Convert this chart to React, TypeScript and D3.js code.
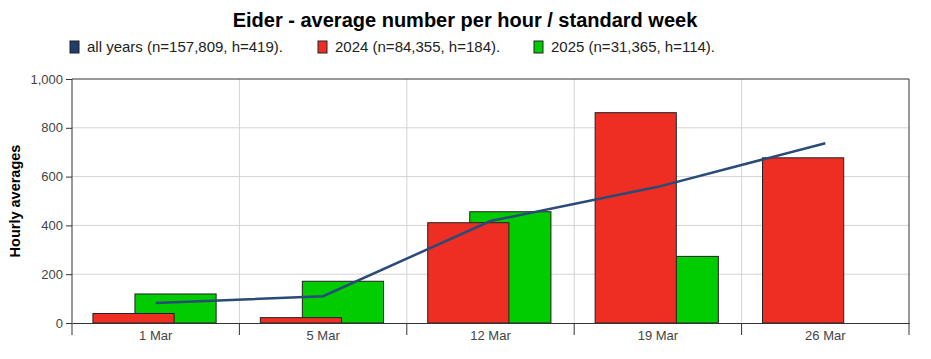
import React, { useEffect, useRef } from 'react';
import * as d3 from 'd3';

const weeks = ['1 Mar', '5 Mar', '12 Mar', '19 Mar', '26 Mar'];
const allYears = [82, 110, 418, 558, 737];
const y2024 = [39, 22, 411, 862, 677];
const y2025 = [119, 171, 456, 273, null];
const yTicks = [0, 200, 400, 600, 800, 1000];

const legendItems = [
  { label: 'all years (n=157,809, h=419).', color: '#1f3f6b', x: 70 },
  { label: '2024 (n=84,355, h=184).', color: '#ee2e22', x: 318 },
  { label: '2025 (n=31,365, h=114).', color: '#00cc00', x: 534 },
];

const FONT = 'Liberation Sans, Arial, sans-serif';

const App = () => {
  const svgRef = useRef<SVGSVGElement>(null);

  useEffect(() => {
    const W = 931, H = 359;
    const margin = { top: 79, right: 22, bottom: 36, left: 72 };
    const width = W - margin.left - margin.right;
    const height = H - margin.top - margin.bottom;

    const root = d3.select(svgRef.current);
    root.selectAll('*').remove();
    root.attr('width', W).attr('height', H);

    // title + legend
    root.append('text')
      .attr('x', 465).attr('y', 27)
      .attr('text-anchor', 'middle')
      .attr('font-family', FONT)
      .attr('font-weight', 'bold')
      .attr('font-size', 20)
      .attr('fill', '#000')
      .text('Eider - average number per hour / standard week');

    const leg = root.append('g').attr('font-family', FONT).attr('font-size', 15);
    legendItems.forEach(d => {
      leg.append('rect')
        .attr('x', d.x).attr('y', 41).attr('width', 9).attr('height', 12)
        .attr('fill', d.color).attr('stroke', '#222').attr('stroke-width', 1);
      leg.append('text')
        .attr('x', d.x + 17).attr('y', 52)
        .attr('fill', '#222')
        .text(d.label);
    });

    // y axis label
    root.append('text')
      .attr('transform', `translate(20,${margin.top + height / 2}) rotate(-90)`)
      .attr('text-anchor', 'middle')
      .attr('font-family', FONT)
      .attr('font-weight', 'bold')
      .attr('font-size', 14.5)
      .attr('fill', '#000')
      .text('Hourly averages');

    const svg = root.append('g').attr('transform', `translate(${margin.left},${margin.top})`);

    const x = d3.scaleBand().domain(weeks).range([0, width]).padding(0);
    const y = d3.scaleLinear().domain([0, 1000]).range([height, 0]);
    const bw = x.bandwidth();

    // grid
    svg.selectAll('.hgrid')
      .data(yTicks.slice(1, -1))
      .enter().append('line')
      .attr('x1', 0).attr('x2', width)
      .attr('y1', d => y(d)).attr('y2', d => y(d))
      .attr('stroke', '#d4d4d4').attr('stroke-width', 1);
    svg.selectAll('.vgrid')
      .data(weeks.slice(1))
      .enter().append('line')
      .attr('x1', d => x(d)!).attr('x2', d => x(d)!)
      .attr('y1', 0).attr('y2', height)
      .attr('stroke', '#d4d4d4').attr('stroke-width', 1);

    // bars: green first, red on top
    const barW = bw * 0.485;
    svg.selectAll('.g25')
      .data(weeks.map((w, i) => ({ w, v: y2025[i] })).filter(d => d.v != null))
      .enter().append('rect')
      .attr('x', d => x(d.w)! + bw * 0.376)
      .attr('y', d => y(d.v as number))
      .attr('width', barW)
      .attr('height', d => height - y(d.v as number))
      .attr('fill', '#00cc00').attr('stroke', '#222').attr('stroke-width', 1);
    svg.selectAll('.r24')
      .data(weeks.map((w, i) => ({ w, v: y2024[i] })))
      .enter().append('rect')
      .attr('x', d => x(d.w)! + bw * 0.125)
      .attr('y', d => y(d.v))
      .attr('width', barW)
      .attr('height', d => height - y(d.v))
      .attr('fill', '#ee2e22').attr('stroke', '#222').attr('stroke-width', 1);

    // frame
    svg.append('line').attr('x1', 0).attr('x2', width).attr('y1', 0).attr('y2', 0).attr('stroke', '#333');
    svg.append('line').attr('x1', width).attr('x2', width).attr('y1', 0).attr('y2', height + 12).attr('stroke', '#333');

    // y axis
    const yAxis = svg.append('g')
      .call(d3.axisLeft(y).tickValues(yTicks).tickFormat(d3.format(',')).tickSize(6).tickSizeOuter(0));
    yAxis.select('.domain').attr('d', `M0,0V${height + 12}`).attr('stroke', '#333');
    yAxis.selectAll('line').attr('stroke', '#333');
    yAxis.selectAll('text')
      .attr('font-family', FONT)
      .attr('font-size', 13).attr('fill', '#444');

    // x axis
    const xAxis = svg.append('g').attr('transform', `translate(0,${height})`)
      .call(d3.axisBottom(x).tickSize(0).tickPadding(8));
    xAxis.select('.domain').attr('stroke', '#333');
    xAxis.selectAll('text')
      .attr('font-family', FONT)
      .attr('font-size', 13).attr('fill', '#444');
    xAxis.selectAll('.sep')
      .data(weeks.slice(1))
      .enter().append('line')
      .attr('x1', d => x(d)!).attr('x2', d => x(d)!)
      .attr('y1', 0).attr('y2', 12)
      .attr('stroke', '#333');

    // all years line
    const line = d3.line<number>()
      .x((_, i) => x(weeks[i])! + bw / 2)
      .y(d => y(d));
    svg.append('path')
      .datum(allYears)
      .attr('d', line)
      .attr('fill', 'none')
      .attr('stroke', '#2a4a78')
      .attr('stroke-width', 2.5);
  }, []);

  return <svg ref={svgRef} style={{ position: 'absolute', left: 0, top: 0, display: 'block' }}></svg>;
};

export default App;
